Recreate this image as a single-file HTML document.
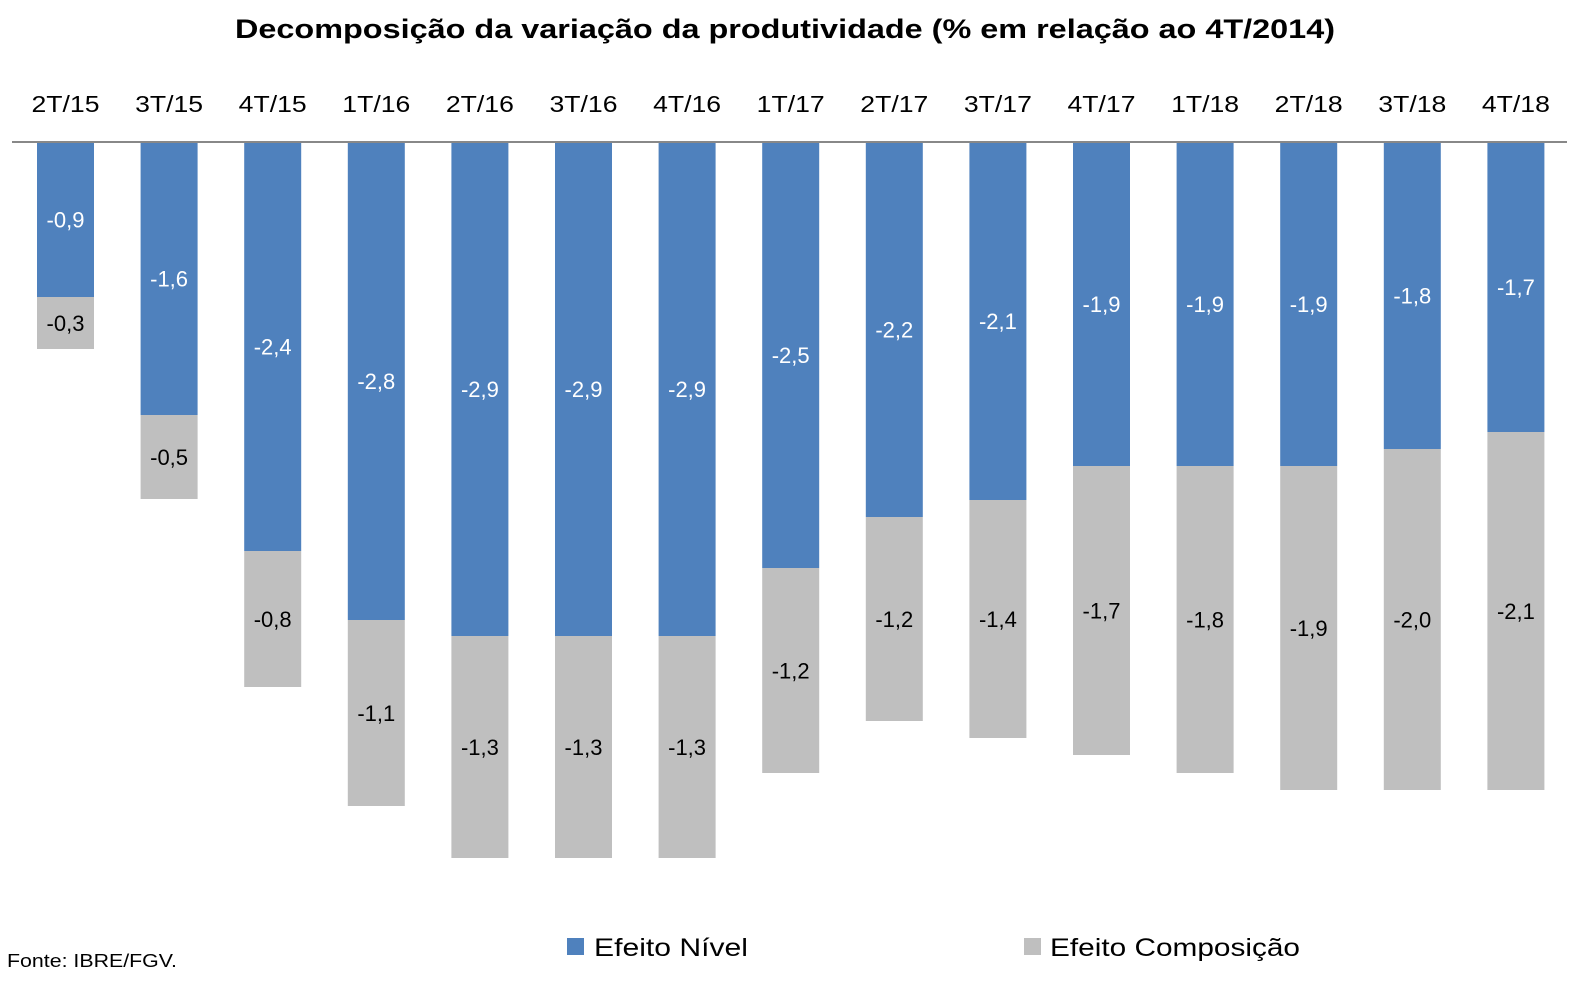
<!DOCTYPE html>
<html><head><meta charset="utf-8"><style>
html,body{margin:0;padding:0;background:#fff;overflow:hidden;width:1583px;height:986px;}
svg{display:block;position:absolute;left:0;top:0;font-family:"Liberation Sans",sans-serif;}
</style></head><body>
<svg width="1583" height="986" viewBox="0 0 1583 986" xmlns="http://www.w3.org/2000/svg">
<text x="785" y="38" text-anchor="middle" font-size="27" font-weight="bold" textLength="1100" lengthAdjust="spacingAndGlyphs">Decomposição da variação da produtividade (% em relação ao 4T/2014)</text>
<g id="bars"></g>
<line x1="12" y1="142" x2="1567" y2="142" stroke="#888" stroke-width="2"/>
<rect x="567" y="938" width="17" height="17" fill="#4F81BD"/>
<text x="594" y="956" font-size="25" textLength="154" lengthAdjust="spacingAndGlyphs">Efeito Nível</text>
<rect x="1024" y="938" width="17" height="17" fill="#BFBFBF"/>
<text x="1050" y="956" font-size="25" textLength="250" lengthAdjust="spacingAndGlyphs">Efeito Composição</text>
<text x="7" y="967" font-size="18" textLength="170" lengthAdjust="spacingAndGlyphs">Fonte: IBRE/FGV.</text>
</svg>
<script>
var d=[["2T/15",297,349,"-0,9","-0,3"],["3T/15",415,499,"-1,6","-0,5"],["4T/15",551,687,"-2,4","-0,8"],["1T/16",620,806,"-2,8","-1,1"],["2T/16",636,858,"-2,9","-1,3"],["3T/16",636,858,"-2,9","-1,3"],["4T/16",636,858,"-2,9","-1,3"],["1T/17",568,773,"-2,5","-1,2"],["2T/17",517,721,"-2,2","-1,2"],["3T/17",500,738,"-2,1","-1,4"],["4T/17",466,755,"-1,9","-1,7"],["1T/18",466,773,"-1,9","-1,8"],["2T/18",466,790,"-1,9","-1,9"],["3T/18",449,790,"-1,8","-2,0"],["4T/18",432,790,"-1,7","-2,1"]];
var s="";
d.forEach(function(r,i){var c=65.5+i*103.6,x=c-28.5;
s+='<rect x="'+x+'" y="142" width="57" height="'+(r[1]-142)+'" fill="#4F81BD"/>';
s+='<rect x="'+x+'" y="'+r[1]+'" width="57" height="'+(r[2]-r[1])+'" fill="#BFBFBF"/>';
s+='<text x="'+c+'" y="'+((142+r[1])/2+8)+'" text-anchor="middle" font-size="22" fill="#fff">'+r[3]+'</text>';
s+='<text x="'+c+'" y="'+((r[1]+r[2])/2+8)+'" text-anchor="middle" font-size="22" fill="#000">'+r[4]+'</text>';
s+='<text x="'+c+'" y="112" text-anchor="middle" font-size="23" textLength="68" lengthAdjust="spacingAndGlyphs">'+r[0]+'</text>';});
document.getElementById("bars").innerHTML=s;
</script>
</body></html>
